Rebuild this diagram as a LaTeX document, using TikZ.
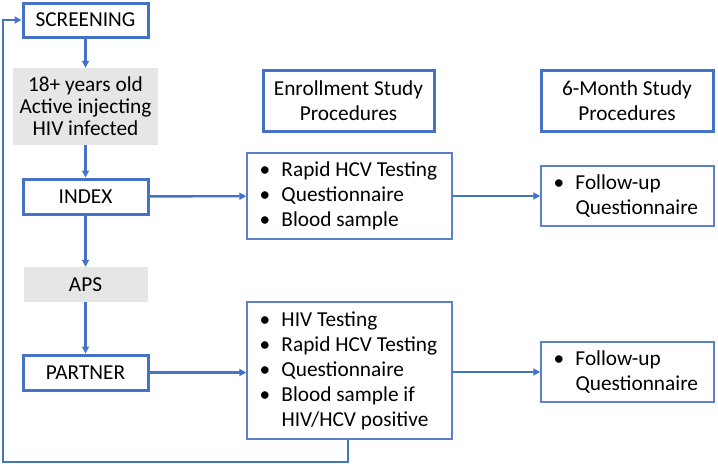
\documentclass[tikz,border=0pt]{standalone}
\usepackage{fontspec}
\setmainfont{Carlito}
\usetikzlibrary{arrows.meta,calc}
\definecolor{obl}{HTML}{4472C4}
\definecolor{thinbl}{HTML}{5B82C8}
\definecolor{ogr}{HTML}{E7E6E6}
\newcommand{\bl}[1]{\makebox[22pt][l]{\textbullet}#1}
\newcommand{\cl}[1]{\makebox[22pt][l]{}#1}
\tikzset{
  thickbox/.style={draw=obl, line width=3pt, minimum width=#1, inner sep=0pt, align=center},
  graybox/.style={fill=ogr, draw=none, minimum width=#1, inner sep=0pt, align=center},
  thinbox/.style={draw=thinbl, line width=1.4pt, minimum width=#1, inner sep=0pt},
  arr/.style={draw=obl, line width=2.4pt, -{Triangle[length=7pt,width=7pt]}},
  txt/.style={font=\fontsize{21.3}{25}\selectfont},
}
\begin{document}
\begin{tikzpicture}[x=1pt,y=-1pt]
\useasboundingbox[fill=white] (0,0) rectangle (718,466);
\node[thickbox=125pt, minimum height=34pt, txt] (scr) at (85.5,20) {SCREENING};
\node[graybox=145pt, minimum height=77pt, font=\fontsize{21.3}{22}\selectfont] (crit) at (85.5,106.5) {18+ years old\\Active injecting\\HIV infected};
\node[thickbox=125pt, minimum height=35pt, txt] (idx) at (85.5,196.5) {INDEX};
\node[graybox=124pt, minimum height=35pt, txt] (aps) at (85.5,284.5) {APS};
\node[thickbox=125pt, minimum height=35pt, txt] (par) at (85.5,372.5) {PARTNER};

\node[thickbox=171pt, minimum height=61pt, txt] (h1) at (348.5,100.5) {Enrollment Study\\Procedures};
\node[thickbox=172pt, minimum height=61pt, txt] (h2) at (627,100.5) {6-Month Study\\Procedures};

\node[thinbox=205pt, minimum height=86pt] (e1) at (349.5,196) {};
\node[txt, anchor=west, align=left, inner sep=0pt] (e1t) at ($(e1.west)+(13,0)$) {\bl{Rapid HCV Testing}\\\bl{Questionnaire}\\\bl{Blood sample}};
\node[thinbox=205pt, minimum height=137pt] (e2) at (349.5,370.5) {};
\node[txt, anchor=west, align=left, inner sep=0pt] (e2t) at ($(e2.west)+(13,0)$) {\bl{HIV Testing}\\\bl{Rapid HCV Testing}\\\bl{Questionnaire}\\\bl{Blood sample if}\\\cl{HIV/HCV positive}};

\node[thinbox=173pt, minimum height=60pt] (f1) at (627.5,196) {};
\node[txt, anchor=west, align=left, inner sep=0pt] (f1t) at ($(f1.west)+(13,0)$) {\bl{Follow-up}\\\cl{Questionnaire}};
\node[thinbox=173pt, minimum height=60pt] (f2) at (627.5,372) {};
\node[txt, anchor=west, align=left, inner sep=0pt] (f2t) at ($(f2.west)+(13,0)$) {\bl{Follow-up}\\\cl{Questionnaire}};

\draw[arr] (scr) -- (crit);
\draw[arr] (crit) -- (idx);
\draw[arr] (idx) -- (aps);
\draw[arr] (aps) -- (par);
\draw[arr] (idx) -- (e1);
\draw[arr] (par.east) -- (par.east -| e2.west);
\draw[arr] (e1) -- (f1);
\draw[arr] (e2.east |- f2.west) -- (f2.west);
\coordinate (lp) at (3,462);
\draw[arr] ([xshift=-1.5pt]e2.south) |- (lp) |- (scr.west);
\end{tikzpicture}
\end{document}
